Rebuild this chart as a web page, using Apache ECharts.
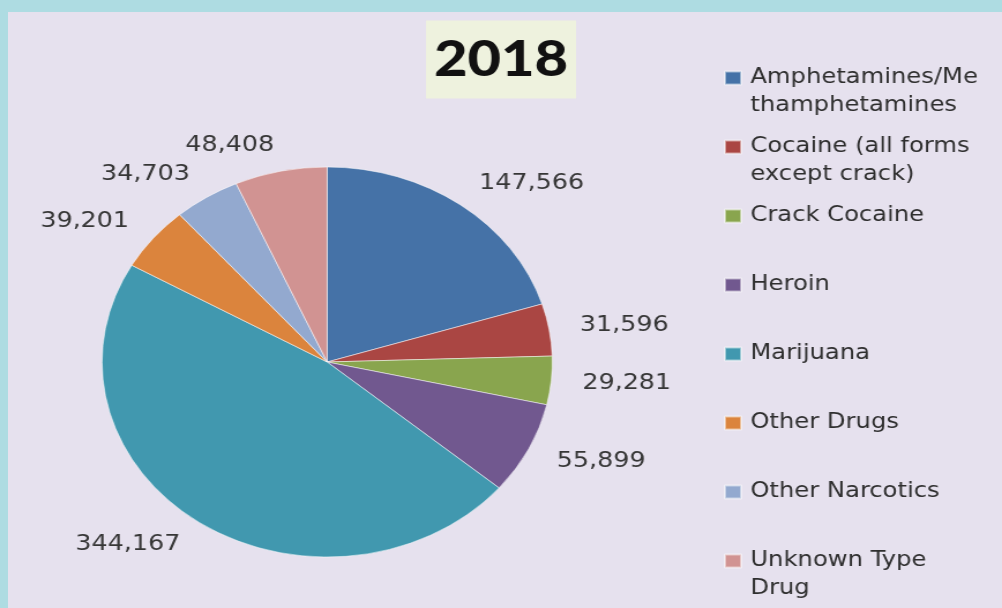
<!DOCTYPE html>
<html>
<head>
<meta charset="utf-8">
<script src="https://cdn.jsdelivr.net/npm/echarts@6/dist/echarts.min.js"></script>
<style>
html,body{margin:0;padding:0;width:1002px;height:608px;overflow:hidden;background:#aedce2;}
#panel{position:absolute;left:8px;top:12px;width:994px;height:596px;background:#e6e1ee;}
#chart{position:absolute;left:0;top:0;width:868px;height:608px;transform:scaleX(1.1544);transform-origin:0 0;}
</style>
</head>
<body>
<div id="panel"></div>
<div id="chart"></div>
<script>
const chartTitle = '2018';
const categories = ['Amphetamines/Methamphetamines', 'Cocaine (all forms except crack)', 'Crack Cocaine', 'Heroin', 'Marijuana', 'Other Drugs', 'Other Narcotics', 'Unknown Type Drug'];
const legendLabels = ['Amphetamines/Me\nthamphetamines', 'Cocaine (all forms\nexcept crack)', 'Crack Cocaine', 'Heroin', 'Marijuana', 'Other Drugs', 'Other Narcotics', 'Unknown Type\nDrug'];
const values = [147566, 31596, 29281, 55899, 344167, 39201, 34703, 48408];
const colors = ['#4572a7', '#aa4643', '#89a54e', '#71588f', '#4198af', '#db843d', '#93a9cf', '#d19392'];

const chart = echarts.init(document.getElementById('chart'), null, {renderer: 'canvas'});
chart.setOption({
  animation: false,
  backgroundColor: 'transparent',
  title: {
    text: chartTitle,
    left: 369,
    top: 22,
    padding: [14, 7, 14, 7],
    backgroundColor: '#eef2de',
    textStyle: {fontSize: 50, fontWeight: 900, fontFamily: 'Lato', color: '#111', lineHeight: 47}
  },
  legend: {
    orient: 'vertical',
    left: 627,
    top: 36,
    padding: 0,
    itemGap: -15,
    itemWidth: 14,
    itemHeight: 13,
    icon: 'rect',
    selectedMode: false,
    data: categories,
    formatter: function (name) {
      const lbl = legendLabels[categories.indexOf(name)];
      return lbl.indexOf('\n') >= 0 ? '\n' + lbl : '\n' + lbl + '\n';
    },
    textStyle: {fontSize: 21, fontFamily: 'DejaVu Sans', color: '#2e2e2e', lineHeight: 28, padding: [0, 0, 0, 3]}
  },
  series: [{
    type: 'pie',
    center: [283.4, 362],
    radius: 195,
    startAngle: 90,
    clockwise: true,
    avoidLabelOverlap: false,
    silent: true,
    data: categories.map(function (n, i) { return {name: n, value: values[i], itemStyle: {color: colors[i]}}; }),
    itemStyle: {borderColor: 'rgba(255,255,255,0.5)', borderWidth: 1},
    label: {
      show: true,
      position: 'outside',
      formatter: function (p) { return p.value.toLocaleString('en-US'); },
      fontSize: 22,
      fontFamily: 'DejaVu Sans',
      color: '#363636',
      distanceToLabelLine: 0
    },
    labelLine: {show: false, length: 27, length2: 0},
    emphasis: {disabled: true}
  }]
});
</script>
</body>
</html>
